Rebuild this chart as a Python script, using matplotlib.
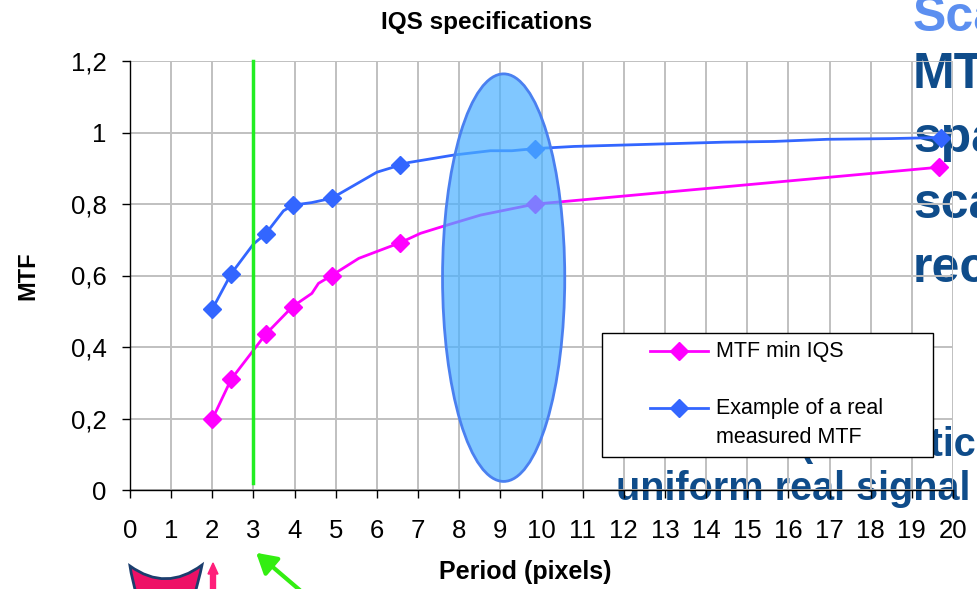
import matplotlib
matplotlib.use("Agg")
import matplotlib.pyplot as plt
from matplotlib.patches import Ellipse, Rectangle, PathPatch, FancyArrow, FancyArrowPatch
from matplotlib.path import Path
from matplotlib.lines import Line2D

plt.rcParams['font.family'] = ['Liberation Sans', 'DejaVu Sans']

# ---------------- data ----------------
title = "IQS specifications"
x_label = "Period (pixels)"
y_label = "MTF"
x_ticks = list(range(0, 21))
y_ticks = [0, 0.2, 0.4, 0.6, 0.8, 1.0, 1.2]
y_tick_labels = ["0", "0,2", "0,4", "0,6", "0,8", "1", "1,2"]

min_iqs_label = "MTF min IQS"
min_iqs_x = [2.0, 2.46, 3.3, 3.95, 4.42, 4.58, 4.9, 5.56, 6.57, 7.06, 7.62, 8.52, 9.85, 10.46, 19.67]
min_iqs_y = [0.198, 0.31, 0.436, 0.513, 0.55, 0.578, 0.60, 0.648, 0.692, 0.718, 0.738, 0.769, 0.80, 0.806, 0.903]
min_iqs_markers = [0, 1, 2, 3, 6, 8, 12, 14]

real_label = "Example of a real\nmeasured MTF"
real_x = [2.0, 2.46, 3.0, 3.3, 3.73, 3.97, 4.42, 4.9, 6.0, 6.57, 6.77, 7.87, 8.76, 9.28, 9.85,
          10.79, 14.44, 15.65, 16.95, 18.5, 19.7]
real_y = [0.506, 0.605, 0.688, 0.717, 0.781, 0.797, 0.804, 0.816, 0.889, 0.909, 0.916, 0.937, 0.949,
          0.949, 0.955, 0.961, 0.973, 0.975, 0.981, 0.983, 0.986]
real_markers = [0, 1, 3, 5, 7, 9, 14, 20]

nyquist_period = 3
highlight_center = (9.08, 0.594)
highlight_size = (2.97, 1.14)

side_text_light = "Sca"
side_text_dark = ["MTF", "spa", "sca", "rec"]
bottom_text = ["(Realistic", "uniform real signal"]

# ---------------- figure ----------------
W, H = 978, 589
fig = plt.figure(figsize=(W / 100, H / 100), dpi=100)
fig.patch.set_facecolor("white")


def px(x, y):
    return (x / W, 1 - y / H)


ax = fig.add_axes([130 / W, 1 - 490 / H, 823 / W, 429 / H])
ax.set_facecolor("none")
ax.set_xlim(0, 20)
ax.set_ylim(0, 1.2)
ax.set_axisbelow(True)
ax.grid(True, color="#C0C0C0", lw=1.4)
for s in ["top", "right"]:
    ax.spines[s].set_visible(False)
for s in ["left", "bottom"]:
    ax.spines[s].set_color("black")
    ax.spines[s].set_linewidth(1.0)

ax.set_xticks(x_ticks)
ax.set_xticklabels([str(v) for v in x_ticks])
ax.set_yticks(y_ticks)
ax.set_yticklabels(y_tick_labels)
ax.tick_params(axis="x", direction="out", length=6, width=1, pad=15, labelsize=18.5)
ax.tick_params(axis="y", direction="out", length=6, width=1, pad=11, labelsize=18.5)

# background slide text (behind chart)
dark = "#0F4C8A"
fig.text(*px(913, 31), side_text_light, color="#5C8FF0", fontsize=36, fontweight="bold",
         ha="left", va="baseline", zorder=-1)
for t, yb in zip(side_text_dark, [88, 152, 218, 282]):
    fig.text(*px(913, yb), t, color=dark, fontsize=36, fontweight="bold",
             ha="left", va="baseline", zorder=-1)
fig.text(*px(800, 456), bottom_text[0], color=dark, fontsize=28.5, fontweight="bold",
         ha="left", va="baseline", zorder=-1)
fig.text(*px(616, 500), bottom_text[1], color=dark, fontsize=28.5, fontweight="bold",
         ha="left", va="baseline", zorder=-1)

# series
blue = "#3366FF"
mag = "#FF00FF"
ax.plot(min_iqs_x, min_iqs_y, color=mag, lw=2, marker="D", ms=9, markevery=min_iqs_markers,
        zorder=3, clip_on=False)
ax.plot(real_x, real_y, color=blue, lw=2, marker="D", ms=9, markevery=real_markers,
        zorder=3, clip_on=False)

# highlight ellipse
ax.add_patch(Ellipse(highlight_center, highlight_size[0], highlight_size[1],
                     facecolor=(0.29, 0.69, 1.0, 0.7), edgecolor="#4A80F0", lw=2, zorder=4))

# green nyquist line
ax.plot([nyquist_period, nyquist_period], [0.02, 1.2], color="#22EE22", lw=2.5, zorder=5,
        clip_on=False)

# titles
fig.text(*px(487, 23), title, fontsize=17.5, fontweight="bold", ha="center", va="center")
fig.text(*px(525, 572), x_label, fontsize=18, fontweight="bold", ha="center", va="center")
fig.text(*px(28, 276), y_label, fontsize=17, fontweight="bold", ha="center", va="center",
         rotation=90)

# legend (drawn inside axes, over background text)
tf = fig.transFigure
x0, y0 = px(601.7, 456.7)
x1, y1 = px(933, 332.7)
ax.add_patch(Rectangle((x0, y0), x1 - x0, y1 - y0, transform=tf, facecolor="white",
                       edgecolor="black", lw=1.0, zorder=10, clip_on=False))
for col, yy in [(mag, 351), (blue, 408)]:
    a, b = px(650, yy)
    c, _ = px(708, yy)
    ax.add_line(Line2D([a, c], [b, b], transform=tf, color=col, lw=2, zorder=11, clip_on=False))
    m, _ = px(679, yy)
    ax.add_line(Line2D([m], [b], transform=tf, color=col, marker="D", ms=9, lw=0, zorder=11,
                       clip_on=False))
ax.text(*px(716, 351), min_iqs_label, transform=tf, fontsize=15.5, ha="left", va="center",
        zorder=12, clip_on=False)
ax.text(*px(716, 423), real_label, transform=tf, fontsize=15.5, ha="left", va="center",
        linespacing=1.55, zorder=12, clip_on=False)

# decorations at the bottom (slide shapes)
verts = [px(130, 566), px(166, 592), px(202, 565),
         px(199, 580), px(194, 596),
         px(137, 596),
         px(132, 580), px(130, 566),
         px(130, 566)]
codes = [Path.MOVETO, Path.CURVE3, Path.CURVE3,
         Path.CURVE3, Path.CURVE3,
         Path.LINETO,
         Path.CURVE3, Path.CURVE3,
         Path.CLOSEPOLY]
fig.patches.append(PathPatch(Path(verts, codes), transform=tf, facecolor="#EE1166",
                             edgecolor="#1B3E6E", lw=2, figure=fig))
ax_, ay_ = px(213, 592)
bx_, by_ = px(213, 563)
fig.patches.append(FancyArrow(ax_, ay_, 0, by_ - ay_, width=3 / H, head_width=10 / W,
                              head_length=11 / H, length_includes_head=True, transform=tf,
                              color="#FF1F7A", figure=fig))
gx0, gy0 = px(302, 592)
gx1, gy1 = px(254, 551)
fig.add_artist(FancyArrowPatch((gx0, gy0), (gx1, gy1), transform=tf,
                               arrowstyle="-|>,head_length=6,head_width=3.5",
                               color="#33EE11", lw=3, mutation_scale=2))

fig.savefig("out.png", dpi=100)
